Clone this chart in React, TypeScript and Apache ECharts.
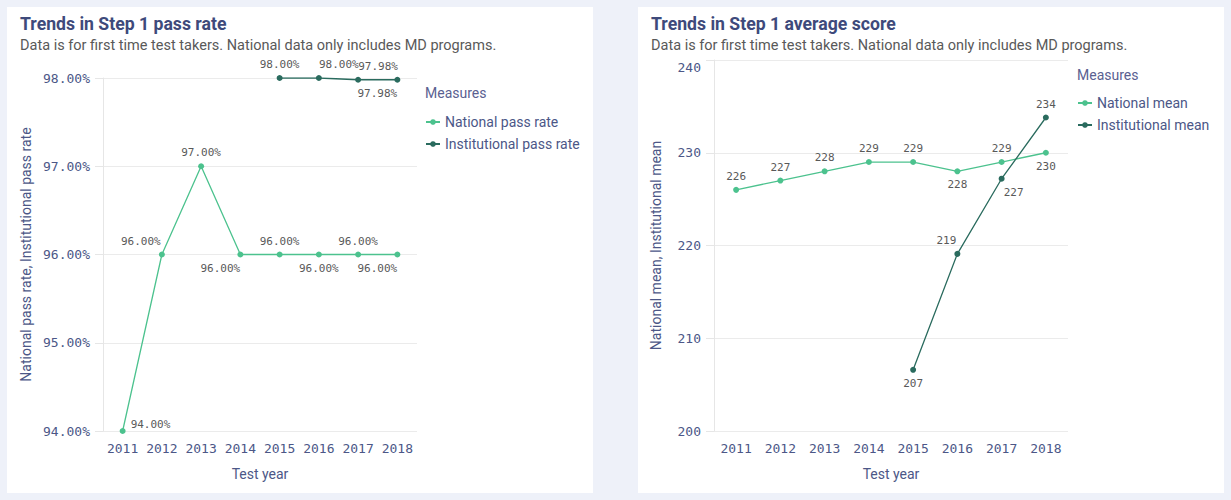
import React, { useEffect, useRef } from "react";
import * as echarts from "echarts";

const years = ["2011", "2012", "2013", "2014", "2015", "2016", "2017", "2018"];
const nationalPassRate = [94, 96, 97, 96, 96, 96, 96, 96];
const institutionalPassRate = [null, null, null, null, 98, 98, 97.98, 97.98];
const nationalMean = [226, 227, 228, 229, 229, 228, 229, 230];
const institutionalMean = [null, null, null, null, 206.6, 219.1, 227.2, 233.8];

const passTicks = { min: 94, max: 98, interval: 1 };
const scoreTicks = { min: 200, max: 240, interval: 10 };

// label placements (layout only)
const natPassPos: any[] = [["right", [0, -7]], ["top", [-21, 0]], ["top", [0, 0]], ["bottom", [-20, 0]], ["top", [0, 0]], ["bottom", [0, 0]], ["top", [0, 0]], ["bottom", [-20, 0]]];
const instPassPos: any[] = [null, null, null, null, ["top", [0, 0]], ["top", [20, 0]], ["top", [20, 0]], ["bottom", [-20, 0]]];
const natMeanPos: any[] = [["top", [0, 0]], ["top", [0, 0]], ["top", [0, 0]], ["top", [0, 0]], ["top", [0, 0]], ["bottom", [0, 0]], ["top", [0, 0]], ["bottom", [0, 0]]];
const instMeanPos: any[] = [null, null, null, null, ["bottom", [0, 0]], ["top", [-11, 0]], ["bottom", [12, 0]], ["top", [0, 0]]];

const NAT = "#4cc28e";
const INST = "#2a6b5e";
const NAVY = "#3e4a7b";
const AXIS_TXT = "#4c5787";
const MONO = "'DejaVu Sans Mono', 'Liberation Mono', monospace";
const SANS = "Roboto, 'Noto Sans', sans-serif";

function buildData(values: (number | null)[], pos: any[], fmt: (v: number) => string) {
  return values.map((v, i) => {
    if (v === null) return null;
    const p = pos[i] || ["top", [0, 0]];
    return {
      value: v,
      label: {
        show: true,
        position: p[0],
        offset: p[1],
        distance: 5,
        formatter: () => fmt(v),
      },
    };
  });
}

export default function App() {
  const ref = useRef<HTMLDivElement>(null);
  useEffect(() => {
    if (!ref.current) return;
    const chart = echarts.init(ref.current, null, { renderer: "svg" });
    const pct = (v: number) => v.toFixed(2) + "%";
    const rnd = (v: number) => String(Math.round(v));
    const labelStyle = { color: "#595959", fontSize: 11, fontFamily: MONO };

    const mkX = (gridIndex: number) => ({
      type: "category",
      gridIndex,
      data: years,
      boundaryGap: true,
      name: "Test year",
      nameLocation: "middle",
      nameGap: 36,
      nameTextStyle: { color: AXIS_TXT, fontSize: 14, fontFamily: SANS },
      axisLine: { show: false },
      axisTick: { show: false },
      axisLabel: { color: AXIS_TXT, fontSize: 13, fontFamily: MONO, margin: 11, interval: 0 },
      splitLine: { show: false },
    });
    const mkY = (gridIndex: number, ticks: any, name: string, gap: number, fmt: (v: number) => string) => ({
      type: "value",
      gridIndex,
      min: ticks.min,
      max: ticks.max,
      interval: ticks.interval,
      name,
      nameLocation: "middle",
      nameGap: gap,
      nameTextStyle: { color: AXIS_TXT, fontSize: 14, fontFamily: SANS },
      axisLine: { show: true, lineStyle: { color: "#e6e6e6", width: 1 } },
      axisTick: { show: true, length: 8, lineStyle: { color: "#e6e6e6" } },
      axisLabel: {
        color: AXIS_TXT, fontSize: 13, fontFamily: MONO, margin: 13, formatter: fmt,
        rich: { low: { color: AXIS_TXT, fontSize: 13, fontFamily: MONO, padding: [15, 0, 0, 0] } },
      },
      splitLine: { show: true, lineStyle: { color: "#ebebeb", width: 1 } },
    });

    const lineSeries = (name: string, xi: number, color: string, data: any[]) => ({
      type: "line",
      name,
      xAxisIndex: xi,
      yAxisIndex: xi,
      data,
      symbol: "circle",
      symbolSize: 6,
      connectNulls: false,
      lineStyle: { color, width: 1.3 },
      itemStyle: { color },
      label: { ...labelStyle },
      emphasis: { disabled: true },
    });

    const titleText = (text: string, x: number) => ({
      type: "text", x, y: 23, scaleX: 0.98,
      style: { text, fill: NAVY, fontSize: 18, fontWeight: "bold", fontFamily: SANS, verticalAlign: "middle", align: "left" },
    });
    const subText = (text: string, x: number) => ({
      type: "text", x, y: 45,
      style: { text, fill: "#595959", fontSize: 14.5, fontFamily: SANS, verticalAlign: "middle", align: "left" },
    });
    const subtitle = "Data is for first time test takers. National data only includes MD programs.";

    chart.setOption({
      animation: false,
      backgroundColor: "#eef1f9",
      graphic: [
        { type: "rect", shape: { x: 7, y: 7, width: 586, height: 486 }, style: { fill: "#ffffff" }, z: -10 },
        { type: "rect", shape: { x: 638, y: 7, width: 586, height: 486 }, style: { fill: "#ffffff" }, z: -10 },
        titleText("Trends in Step 1 pass rate", 20),
        subText(subtitle, 20),
        titleText("Trends in Step 1 average score", 651),
        subText(subtitle, 651),
      ],
      title: [
        { text: "Measures", left: 420, top: 81, textStyle: { color: "#5a6191", fontSize: 14, fontWeight: "normal", fontFamily: SANS } },
        { text: "Measures", left: 1072, top: 63, textStyle: { color: "#5a6191", fontSize: 14, fontWeight: "normal", fontFamily: SANS } },
      ],
      legend: [
        {
          orient: "vertical", left: 420, top: 110, itemGap: 8, itemWidth: 14, itemHeight: 7,
          data: ["National pass rate", "Institutional pass rate"],
          textStyle: { color: AXIS_TXT, fontSize: 14, fontFamily: SANS },
          selectedMode: false,
        },
        {
          orient: "vertical", left: 1072, top: 91, itemGap: 8, itemWidth: 14, itemHeight: 7,
          data: ["National mean", "Institutional mean"],
          textStyle: { color: AXIS_TXT, fontSize: 14, fontFamily: SANS },
          selectedMode: false,
        },
      ],
      grid: [
        { left: 103, right: 814, top: 78, bottom: 69 },
        { left: 714, right: 163, top: 60, bottom: 69 },
      ],
      xAxis: [mkX(0), mkX(1)],
      yAxis: [
        mkY(0, passTicks, "National pass rate, Institutional pass rate", 70, (v: number) => v.toFixed(2) + "%"),
        mkY(1, scoreTicks, "National mean, Institutional mean", 51, (v: number) => (v === scoreTicks.max ? "{low|" + v + "}" : String(v))),
      ],
      series: [
        lineSeries("National pass rate", 0, NAT, buildData(nationalPassRate, natPassPos, pct)),
        lineSeries("Institutional pass rate", 0, INST, buildData(institutionalPassRate, instPassPos, pct)),
        lineSeries("National mean", 1, NAT, buildData(nationalMean, natMeanPos, rnd)),
        lineSeries("Institutional mean", 1, INST, buildData(institutionalMean, instMeanPos, rnd)),
      ],
    });
    return () => chart.dispose();
  }, []);
  return <div ref={ref} style={{ position: "absolute", left: 0, top: 0, width: 1231, height: 500 }} />;
}
